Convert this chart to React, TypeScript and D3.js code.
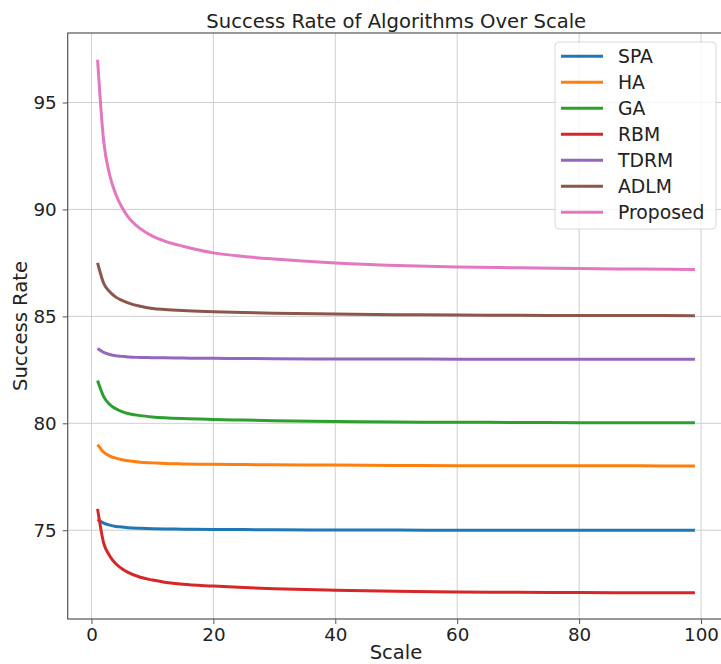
import { useEffect, useRef } from 'react'
import * as d3 from 'd3'

// Scale values sampled along the x axis
const scales = [1, 2, 3, 4, 5, 6, 8, 10, 12, 15, 20, 25, 30, 40, 50, 60, 70, 80, 90, 99]

// Success rate per algorithm
const spa = [75.5, 75.33, 75.24, 75.18, 75.15, 75.12, 75.09, 75.07, 75.06, 75.05, 75.04, 75.03, 75.02, 75.01, 75.01, 75.0, 75.0, 75.0, 75.0, 75.0]
const ha = [79.0, 78.65, 78.47, 78.37, 78.3, 78.25, 78.18, 78.15, 78.12, 78.1, 78.08, 78.07, 78.06, 78.05, 78.03, 78.02, 78.02, 78.01, 78.01, 78.0]
const ga = [82.0, 81.25, 80.88, 80.68, 80.55, 80.46, 80.36, 80.3, 80.26, 80.22, 80.18, 80.15, 80.12, 80.09, 80.06, 80.05, 80.04, 80.03, 80.03, 80.03]
const rbm = [76.0, 74.4, 73.8, 73.43, 73.2, 73.03, 72.8, 72.67, 72.57, 72.47, 72.39, 72.32, 72.27, 72.2, 72.15, 72.11, 72.1, 72.09, 72.08, 72.08]
const tdrm = [83.5, 83.32, 83.22, 83.16, 83.13, 83.1, 83.08, 83.07, 83.06, 83.05, 83.04, 83.03, 83.02, 83.01, 83.01, 83.0, 83.0, 83.0, 83.0, 83.0]
const adlm = [87.5, 86.55, 86.15, 85.9, 85.75, 85.63, 85.47, 85.37, 85.32, 85.27, 85.22, 85.18, 85.15, 85.11, 85.08, 85.06, 85.05, 85.04, 85.04, 85.03]
const proposed = [97.0, 93.2, 91.6, 90.7, 90.1, 89.65, 89.1, 88.75, 88.52, 88.28, 87.97, 87.8, 87.68, 87.5, 87.38, 87.31, 87.27, 87.24, 87.21, 87.19]

const seriesNames = ['SPA', 'HA', 'GA', 'RBM', 'TDRM', 'ADLM', 'Proposed']
const seriesValues = [spa, ha, ga, rbm, tdrm, adlm, proposed]
const colors = ['#1f77b4', '#ff7f0e', '#2ca02c', '#d62728', '#9467bd', '#8c564b', '#e377c2']

const xTicks = [0, 20, 40, 60, 80, 100]
const yTicks = [75, 80, 85, 90, 95]

const WIDTH = 721
const HEIGHT = 664
const FONT = '"DejaVu Sans", sans-serif'

export default function App() {
  const svgRef = useRef<SVGSVGElement>(null)

  useEffect(() => {
    if (!svgRef.current) return
    const svg = d3.select(svgRef.current)
    svg.selectAll('*').remove()

    // plot box (right spine sits just past the picture edge)
    const left = 67.7
    const right = 724.8
    const top = 33
    const bottom = 619

    const x = d3.scaleLinear().domain([-3.9, 103.9]).range([left, right])
    const y = d3.scaleLinear().domain([70.85, 98.25]).range([bottom, top])

    svg.append('rect').attr('width', WIDTH).attr('height', HEIGHT).attr('fill', 'white')

    // Grid lines
    const grid = svg.append('g').attr('stroke', '#cfcfcf').attr('stroke-width', 1)
    xTicks.forEach((t) => {
      grid.append('line').attr('x1', x(t)).attr('x2', x(t)).attr('y1', top).attr('y2', bottom)
    })
    yTicks.forEach((t) => {
      grid.append('line').attr('x1', left).attr('x2', right).attr('y1', y(t)).attr('y2', y(t))
    })

    // Series lines
    const line = d3
      .line<number>()
      .x((_, i) => x(scales[i]))
      .y((d) => y(d))
      .curve(d3.curveMonotoneX)

    seriesValues.forEach((vals, i) => {
      svg.append('path')
        .datum(vals)
        .attr('fill', 'none')
        .attr('stroke', colors[i])
        .attr('stroke-width', 3)
        .attr('stroke-linejoin', 'round')
        .attr('d', line)
    })

    // Spines
    svg.append('rect')
      .attr('x', left)
      .attr('y', top)
      .attr('width', right - left)
      .attr('height', bottom - top)
      .attr('fill', 'none')
      .attr('stroke', '#555')
      .attr('stroke-width', 1.2)

    // X axis
    const xAxis = svg.append('g')
      .attr('transform', `translate(0,${bottom})`)
      .call(d3.axisBottom(x).tickValues(xTicks).tickSize(5).tickSizeOuter(0).tickPadding(4))
    xAxis.select('.domain').remove()
    xAxis.selectAll('line').attr('stroke', '#555')
    xAxis.selectAll('text')
      .attr('fill', '#222')
      .attr('font-family', FONT)
      .attr('font-size', '18.3px')

    // Y axis
    const yAxis = svg.append('g')
      .attr('transform', `translate(${left},0)`)
      .call(d3.axisLeft(y).tickValues(yTicks).tickSize(5).tickSizeOuter(0).tickPadding(6))
    yAxis.select('.domain').remove()
    yAxis.selectAll('line').attr('stroke', '#555')
    yAxis.selectAll('text')
      .attr('fill', '#222')
      .attr('font-family', FONT)
      .attr('font-size', '18.3px')

    // Labels
    svg.append('text')
      .attr('x', (left + right) / 2)
      .attr('y', 28)
      .attr('text-anchor', 'middle')
      .attr('font-family', FONT)
      .attr('font-size', '19.6px')
      .attr('fill', '#222')
      .text('Success Rate of Algorithms Over Scale')

    svg.append('text')
      .attr('x', 396)
      .attr('y', 659)
      .attr('text-anchor', 'middle')
      .attr('font-family', FONT)
      .attr('font-size', '19.6px')
      .attr('fill', '#222')
      .text('Scale')

    svg.append('text')
      .attr('transform', `translate(27,${(top + bottom) / 2}) rotate(-90)`)
      .attr('text-anchor', 'middle')
      .attr('font-family', FONT)
      .attr('font-size', '19.6px')
      .attr('fill', '#222')
      .text('Success Rate')

    // Legend
    const legend = svg.append('g')
    legend.append('rect')
      .attr('x', 555)
      .attr('y', 42)
      .attr('width', 161)
      .attr('height', 187)
      .attr('rx', 4)
      .attr('fill', 'white')
      .attr('fill-opacity', 0.8)
      .attr('stroke', '#d8d8d8')
      .attr('stroke-width', 1)

    seriesNames.forEach((name, i) => {
      const ly = 56.3 + i * 26
      legend.append('line')
        .attr('x1', 561)
        .attr('x2', 603)
        .attr('y1', ly)
        .attr('y2', ly)
        .attr('stroke', colors[i])
        .attr('stroke-width', 3)
      legend.append('text')
        .attr('x', 618)
        .attr('y', ly)
        .attr('dy', '0.36em')
        .attr('font-family', FONT)
        .attr('font-size', '18.8px')
        .attr('fill', '#222')
        .text(name)
    })
  }, [])

  return (
    <div style={{ position: 'absolute', left: 0, top: 0 }}>
      <svg ref={svgRef} width={WIDTH} height={HEIGHT} style={{ display: 'block' }} />
    </div>
  )
}
